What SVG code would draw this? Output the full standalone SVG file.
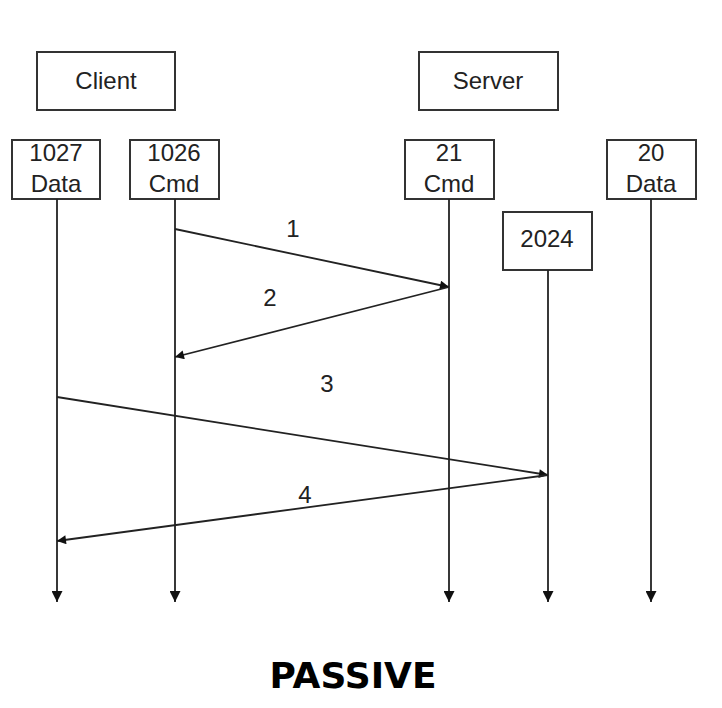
<svg xmlns="http://www.w3.org/2000/svg" width="722" height="708" viewBox="0 0 722 708">
<style>
.box{fill:#fff;stroke:#333;stroke-width:2}
.t{font-family:"Liberation Sans",Arial,sans-serif;font-size:24px;fill:#222;text-anchor:middle}
.ln{stroke:#222;stroke-width:1.8;fill:none}
.ttl{font-family:"DejaVu Sans",Verdana,sans-serif;font-weight:bold;font-size:36px;fill:#000;text-anchor:middle}
</style>
<defs>
<marker id="ah" viewBox="0 0 10 10" refX="10" refY="5" markerWidth="11" markerHeight="9" markerUnits="userSpaceOnUse" orient="auto">
<path d="M0,0 L10,5 L0,10 z" fill="#111"/>
</marker>
<marker id="ahd" viewBox="0 0 10 10" refX="10" refY="5" markerWidth="12" markerHeight="11" markerUnits="userSpaceOnUse" orient="auto">
<path d="M0,0 L10,5 L0,10 z" fill="#111"/>
</marker>
</defs>
<rect width="722" height="708" fill="#fff"/>
<g id="client"><rect class="box" x="37" y="52" width="138" height="58"/><text class="t" x="106" y="89">Client</text></g>
<g id="server"><rect class="box" x="419" y="52" width="139" height="58"/><text class="t" x="488" y="89">Server</text></g>
<g id="p1027"><rect class="box" x="12" y="140" width="88" height="59"/><text class="t" x="56" y="161">1027</text><text class="t" x="56" y="192">Data</text></g>
<g id="p1026"><rect class="box" x="130" y="140" width="89" height="59"/><text class="t" x="174" y="161">1026</text><text class="t" x="174" y="192">Cmd</text></g>
<g id="p21"><rect class="box" x="405" y="140" width="89" height="59"/><text class="t" x="449" y="161">21</text><text class="t" x="449" y="192">Cmd</text></g>
<g id="p20"><rect class="box" x="607" y="140" width="89" height="59"/><text class="t" x="651" y="161">20</text><text class="t" x="651" y="192">Data</text></g>
<g id="p2024"><rect class="box" x="503" y="212" width="89" height="58"/><text class="t" x="547" y="247">2024</text></g>
<g id="connectors">
<line class="ln" x1="57" y1="199" x2="57" y2="602" marker-end="url(#ahd)"/>
<line class="ln" x1="175" y1="199" x2="175" y2="602" marker-end="url(#ahd)"/>
<line class="ln" x1="449" y1="199" x2="449" y2="602" marker-end="url(#ahd)"/>
<line class="ln" x1="548" y1="270" x2="548" y2="602" marker-end="url(#ahd)"/>
<line class="ln" x1="651" y1="199" x2="651" y2="602" marker-end="url(#ahd)"/>
<line class="ln" x1="175" y1="229" x2="449" y2="287" marker-end="url(#ah)"/>
<line class="ln" x1="449" y1="287" x2="175" y2="357" marker-end="url(#ah)"/>
<line class="ln" x1="57" y1="397" x2="548" y2="475" marker-end="url(#ah)"/>
<line class="ln" x1="548" y1="475" x2="57" y2="541" marker-end="url(#ah)"/>
<text class="t" x="293" y="237">1</text>
<text class="t" x="270" y="306">2</text>
<text class="t" x="327" y="392">3</text>
<text class="t" x="305" y="503">4</text>
</g>
<text class="ttl" x="353" y="688">PASSIVE</text>
</svg>
